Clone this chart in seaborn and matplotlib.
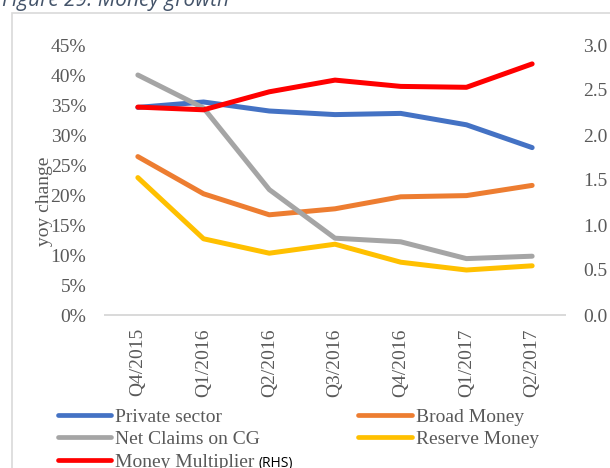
import matplotlib
matplotlib.use("Agg")
import matplotlib.pyplot as plt
import numpy as np
import pandas as pd
import seaborn as sns
from matplotlib.lines import Line2D
from matplotlib.patches import Rectangle
from matplotlib.ticker import PercentFormatter, FormatStrFormatter, MultipleLocator

# ---- data ----
quarters = ["Q4/2015", "Q1/2016", "Q2/2016", "Q3/2016", "Q4/2016", "Q1/2017", "Q2/2017"]
private_sector = [34.6, 35.5, 34.0, 33.4, 33.6, 31.7, 27.9]
broad_money = [26.4, 20.2, 16.7, 17.7, 19.7, 19.9, 21.6]
net_claims_cg = [40.0, 34.5, 20.9, 12.8, 12.2, 9.4, 9.8]
reserve_money = [22.9, 12.7, 10.3, 11.8, 8.8, 7.5, 8.2]
money_multiplier = [2.31, 2.28, 2.48, 2.61, 2.54, 2.53, 2.79]

series_names = ["Private sector", "Broad Money", "Net Claims on CG", "Reserve Money"]
series_values = [private_sector, broad_money, net_claims_cg, reserve_money]
mm_name = "Money Multiplier"

colors = {
    "Private sector": "#4472C4",
    "Broad Money": "#ED7D31",
    "Net Claims on CG": "#A5A5A5",
    "Reserve Money": "#FFC000",
    mm_name: "#FF0000",
}

df = pd.DataFrame({
    "quarter": quarters * len(series_names),
    "value": sum(series_values, []),
    "series": sum([[n] * len(quarters) for n in series_names], []),
})
df_mm = pd.DataFrame({"quarter": quarters, "value": money_multiplier})

sns.set_theme(style="white")
plt.rcParams["font.family"] = ["Liberation Serif", "DejaVu Serif"]

W, H = 610, 468
fig = plt.figure(figsize=(W / 100, H / 100), dpi=100)
ax = fig.add_axes([105 / W, 1 - 315 / H, 460 / W, 270 / H])
ax2 = ax.twinx()

LW = 3.6
line_kw = dict(solid_capstyle="round", solid_joinstyle="round")
sns.lineplot(data=df, x="quarter", y="value", hue="series", hue_order=series_names,
             palette=colors, linewidth=LW, legend=False, sort=False, ax=ax, **line_kw)
sns.lineplot(data=df_mm, x="quarter", y="value", color=colors[mm_name],
             linewidth=LW, legend=False, sort=False, ax=ax2, **line_kw)

tick_color = "#595959"
ax.set_xlim(-0.5, len(quarters) - 0.5)
ax.set_ylim(0, 45)
ax.yaxis.set_major_locator(MultipleLocator(5))
ax.yaxis.set_major_formatter(PercentFormatter(decimals=0))
ax2.set_ylim(0, 3.0)
ax2.yaxis.set_major_locator(MultipleLocator(0.5))
ax2.yaxis.set_major_formatter(FormatStrFormatter("%.1f"))

ax.set_xticks(range(len(quarters)))
ax.set_xticklabels(quarters, rotation=90)
ax.set_xlabel("")
ax2.set_xlabel("")
ax2.set_ylabel("")

for a in (ax, ax2):
    for s in a.spines.values():
        s.set_visible(False)
    a.grid(False)
ax.spines["bottom"].set_visible(True)
ax.spines["bottom"].set_color("#D9D9D9")
ax.spines["bottom"].set_linewidth(1.4)

ax.tick_params(axis="y", length=0, pad=13.5, labelsize=14, labelcolor=tick_color)
ax.tick_params(axis="x", length=0, pad=9.5, labelsize=14, labelcolor=tick_color)
ax2.tick_params(axis="y", length=0, pad=13, labelsize=14, labelcolor=tick_color)

ax.set_ylabel("yoy change", fontsize=14, color=tick_color)
ax.yaxis.set_label_coords(-0.113, 0.42)

# border and title
fig.add_artist(Rectangle((11.5 / W, -0.1), 1.0, (1 - 13 / H) + 0.1, fill=False,
                         ec="#D9D9D9", lw=1.2, transform=fig.transFigure, clip_on=False))
fig.text(2 / W, 1 - 6 / H, "Figure 29: Money growth", style="italic", color="#44546A",
         fontsize=15, family=["Open Sans", "DejaVu Sans"], va="baseline", ha="left")

# legend
order = ["Private sector", "Net Claims on CG", mm_name, "Broad Money", "Reserve Money"]
handles = [Line2D([0], [0], color=colors[n], lw=3.4, solid_capstyle="round") for n in order]
leg = fig.legend(handles, order, ncol=2, loc="upper left",
                 bbox_to_anchor=(58 / W, 1 - 408 / H), frameon=False,
                 borderpad=0, borderaxespad=0, handlelength=2.75, handletextpad=0.2,
                 labelspacing=0.25, columnspacing=5.05,
                 prop={"family": ["Liberation Serif"], "size": 14}, labelcolor=tick_color)

fig.canvas.draw()
t = leg.get_texts()[2]
bb = t.get_window_extent()
fig.text((bb.x1 + 4) / W, ((bb.y0 + bb.y1) / 2 - 1) / H, "(RHS)", fontsize=10,
         family=["Open Sans", "DejaVu Sans"], color="black", va="center", ha="left")

fig.savefig("out.png", dpi=100)
